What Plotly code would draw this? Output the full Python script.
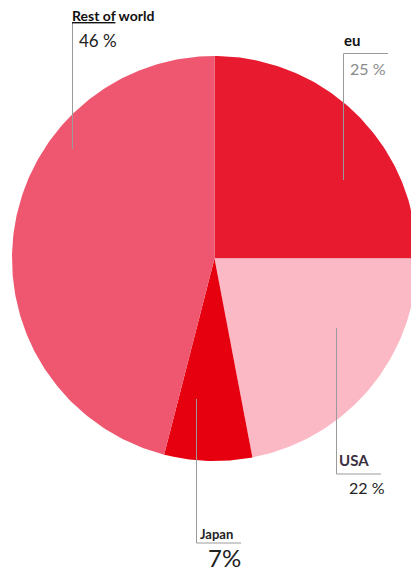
import math
import plotly.graph_objects as go

# ---- data ----
regions = ["eu", "USA", "Japan", "Rest of world"]
shares = [25, 22, 7, 46]
pct_labels = ["25 %", "22 %", "7%", "46 %"]
colors = ["#e81a30", "#fbb9c6", "#e6000f", "#ef566f"]

# ---- layout geometry (pixel-like data units) ----
W, H = 411, 572
cx, cy, r = 214.5, 258.5, 202.5

fig = go.Figure()

total = sum(shares)
start = 0.0
for name, val, col in zip(regions, shares, colors):
    a0 = start / total * 2 * math.pi
    a1 = (start + val) / total * 2 * math.pi
    n = max(int(val * 4), 8)
    xs, ys = [cx], [cy]
    for i in range(n + 1):
        a = a0 + (a1 - a0) * i / n
        xs.append(cx + r * math.sin(a))
        ys.append(cy - r * math.cos(a))
    xs.append(cx)
    ys.append(cy)
    fig.add_trace(go.Scatter(x=xs, y=ys, fill="toself", fillcolor=col,
                             mode="lines", line=dict(width=0, color=col),
                             hoverinfo="text", text=f"{name}: {val}%",
                             showlegend=False))
    start += val

line_col = "#9a9a9a"
leaders = [
    ([72.5, 72.5], [23, 149]),                        # Rest of world
    ([388, 343.5, 343.5], [53.5, 53.5, 180]),         # eu
    ([336.5, 336.5, 381], [328, 474, 474]),           # USA
    ([196.5, 196.5, 241], [399, 543, 543]),           # Japan
]
for xs, ys in leaders:
    fig.add_trace(go.Scatter(x=xs, y=ys, mode="lines",
                             line=dict(color=line_col, width=1),
                             hoverinfo="skip", showlegend=False))

fam = "Lato"
ann = [
    dict(x=70, y=15, text="<b><u>Rest of</u> world</b>", size=14, color="#111111"),
    dict(x=77, y=40, text=pct_labels[3], size=17, color="#222222"),
    dict(x=342, y=40, text="<b>" + regions[0] + "</b>", size=15, color="#111111"),
    dict(x=348, y=68, text=pct_labels[0], size=16, color="#8a8a8a"),
    dict(x=337, y=460, text="<b>" + regions[1] + "</b>", size=15, color="#3a3040"),
    dict(x=347, y=487, text=pct_labels[1], size=16, color="#222222"),
    dict(x=198, y=534, text="<b>" + regions[2] + "</b>", size=13, color="#222222"),
    dict(x=206, y=557, text=pct_labels[2], size=24, color="#222222"),
]
for a in ann:
    fig.add_annotation(x=a["x"], y=a["y"], text=a["text"], showarrow=False,
                       xanchor="left", yanchor="middle",
                       font=dict(family=fam, size=a["size"], color=a["color"]))

fig.update_layout(
    width=W, height=H,
    margin=dict(l=0, r=0, t=0, b=0),
    paper_bgcolor="white", plot_bgcolor="white",
    xaxis=dict(range=[0, W], visible=False, fixedrange=True),
    yaxis=dict(range=[H, 0], visible=False, fixedrange=True),
)

fig.write_html("out.html", config={"displayModeBar": False},
               post_script="document.body.style.margin='0';")
